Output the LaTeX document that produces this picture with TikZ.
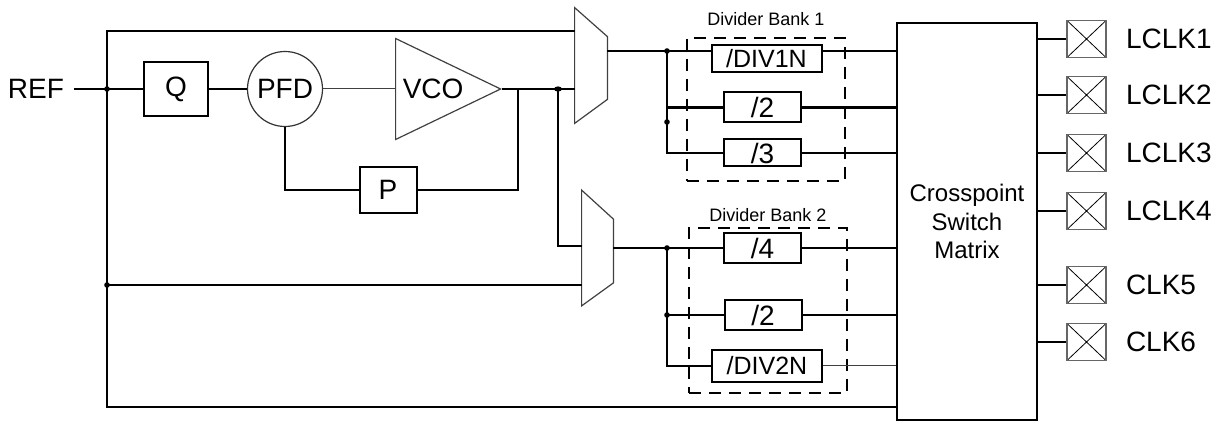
\documentclass[tikz,border=0pt]{standalone}
\usepackage{fontspec}
\setmainfont{Liberation Sans}
\usetikzlibrary{shapes.geometric,positioning}
\tikzstyle{sig} = [inner ysep=0pt, inner xsep=5pt, font=\fontsize{14}{16}\selectfont]
\tikzstyle{block} = [rectangle, draw, line width=1pt, inner sep=0pt, font=\fontsize{14}{16}\selectfont]
\tikzstyle{detector} = [circle, draw=black!80, line width=0.6pt, minimum size=37.5pt, inner sep=0pt, font=\fontsize{14}{16}\selectfont]
\tikzstyle{amp} = [isosceles triangle, isosceles triangle stretches, shape border rotate=0, draw=black!75, line width=0.6pt, minimum width=50.5pt, minimum height=52.5pt, inner sep=0pt, font=\fontsize{14}{16}\selectfont]
\tikzstyle{mux} = [rectangle, inner sep=0pt, minimum width=16pt, minimum height=57.5pt]
\tikzstyle{muxedge} = [draw=black!75, line width=0.6pt, line join=miter]
\tikzstyle{divider} = [rectangle, draw, line width=1pt, inner sep=0pt, minimum width=38.5pt, minimum height=15pt, font=\fontsize{14}{16}\selectfont]
\tikzstyle{divwide} = [divider, minimum width=55pt, font=\fontsize{12.5}{15}\selectfont]
\tikzstyle{bank} = [rectangle, draw, line width=1pt, dash pattern=on 6pt off 4pt, inner sep=0pt, minimum width=79pt]
\tikzstyle{banklabel} = [inner sep=0pt, font=\fontsize{9}{11}\selectfont]
\tikzstyle{matrixbox} = [rectangle, draw, line width=1.1pt, align=center, minimum width=70pt, minimum height=198.5pt, font=\fontsize{12}{14.3}\selectfont]
\tikzstyle{pad} = [rectangle, draw=black!60, line width=0.6pt, minimum width=19.5pt, minimum height=18.5pt, inner sep=0pt, path picture={\draw[black, line width=0.4pt] (path picture bounding box.north west) -- (path picture bounding box.south east) (path picture bounding box.south west) -- (path picture bounding box.north east);}]
\tikzstyle{pinlabel} = [inner sep=0pt, font=\fontsize{14}{16}\selectfont]
\tikzstyle{dot} = [circle, fill, inner sep=0pt, minimum size=2.8pt]
\tikzstyle{line} = [draw, line width=1.1pt]
\tikzstyle{thinline} = [draw, line width=0.5pt, black!75]

\begin{document}
\begin{tikzpicture}[node distance = 9.5pt, x=0.5pt, y=-0.5pt]
					\useasboundingbox (0,0) rectangle (1217,422);
					\node [sig] (ref) at (36,89) {REF};
					\node [block, minimum width=32pt, minimum height=27pt] (q) at (176,89) {Q};
					\node [detector] (pfd) at (285,89) {PFD};
					\node [amp, anchor=lower side] (vco) at (395,89) {VCO};
					\node [block, minimum width=28.5pt, minimum height=23pt] (p) at (388,190) {P};
					\node [mux] (mux1) at (591,65.5) {};
					\node [mux, minimum width=15.5pt] (mux2) at (597.5,248) {};
					\node [bank, minimum height=71.5pt] (bank1) at (766,109.5) {};
					\node [banklabel, above=5.5pt of bank1] (bank1lbl) {Divider Bank 1};
					\node [divwide, minimum height=13.5pt] (div1n) at (766.5,58.5) {/DIV1N};
					\node [divider] (d2) at (762.5,107.5) {/2};
					\node [divider, minimum height=13.5pt] (d3) at (762.5,153) {/3};
					\node [bank, minimum height=82.5pt] (bank2) at (768,310.5) {};
					\node [banklabel, above=2.5pt of bank2] (bank2lbl) {Divider Bank 2};
					\node [divider] (d4) at (762.5,248) {/4};
					\node [divider] (d5) at (763,315) {/2};
					\node [divwide, minimum height=16pt] (div2n) at (767,366) {/DIV2N};
					\node [matrixbox] (xpt) at (967,221.5) {Crosspoint\\Switch\\Matrix};
					\node [pad] (pad1) at (1086.5,39) {};
					\node [pad] (pad2) at (1086.5,95) {};
					\node [pad] (pad3) at (1086.5,153) {};
					\node [pad] (pad4) at (1086.5,211) {};
					\node [pad] (pad5) at (1086.5,285) {};
					\node [pad] (pad6) at (1086.5,342) {};
					\node [pinlabel, right=of pad1] (lclk1) {LCLK1};
					\node [pinlabel, right=of pad2] (lclk2) {LCLK2};
					\node [pinlabel, right=of pad3] (lclk3) {LCLK3};
					\node [pinlabel, right=of pad4] (lclk4) {LCLK4};
					\node [pinlabel, right=of pad5] (clk5) {CLK5};
					\node [pinlabel, right=of pad6] (clk6) {CLK6};
					\draw [muxedge] (mux1.north west) -- ([yshift=-14.5pt]mux1.north east) -- ([yshift=12pt]mux1.south east) -- (mux1.south west) -- cycle;
					\draw [muxedge] (mux2.north west) -- ([yshift=-14.5pt]mux2.north east) -- ([yshift=11.5pt]mux2.south east) -- (mux2.south west) -- cycle;
					\coordinate (topl) at (107,31);
					\coordinate (botl) at (107,407);
					\coordinate (vj) at (518,89);
					\coordinate (m2a) at (560,246);
					\coordinate (m1o) at (607,51);
					\node [dot] (refj) at (107,89) {};
					\node [dot] (m2j) at (107,285) {};
					\node [dot, ellipse, minimum width=4pt, minimum height=2.6pt] (dj) at (558,89) {};
					\node [dot] (b1j) at (667,51) {};
					\node [dot] (b1k) at (667,122) {};
					\node [dot] (b2j) at (667,248) {};
					\node [dot] (b2k) at (667,315) {};
					\path [line] (ref) -- (q);
					\path [line] (q) -- (pfd);
					\path [thinline] (pfd) -- (vco.lower side);
					\path [line] (vco.apex) -- (vco.apex -| mux1.west);
					\path [line] (pfd.south) |- (p.west);
					\path [line] (p.east) -| (vj);
					\path [line] (topl -| mux1.west) -- (topl) -- (botl) -- (botl -| xpt.west);
					\path [line] (dj.center) |- (m2a) -- (m2a -| mux2.west);
					\path [line] (m2j.center) -- (m2j -| mux2.west);
					\path [line] (m1o) -- (m1o -| div1n.west);
					\path [line] (b1j.center) |- (d3.west);
					\path [line] (b1j |- d2) -- (d2.west);
					\path [line] (m1o -| div1n.east) -- (m1o -| xpt.west);
					\path [line] (d2.east) -- (d2.east -| xpt.west);
					\path [line] (d3.east) -- (d3.east -| xpt.west);
					\path [line] (mux2.east) -- (d4.west);
					\path [line] (b2j.center) |- (div2n.west);
					\path [line] (b2k.center) -- (d5.west);
					\path [line] (d4.east) -- (d4.east -| xpt.west);
					\path [line] (d5.east) -- (d5.east -| xpt.west);
					\path [thinline] (div2n.east) -- (div2n.east -| xpt.west);
					\path [line] (xpt.east |- pad1) -- (pad1);
					\path [line] (xpt.east |- pad2) -- (pad2);
					\path [line] (xpt.east |- pad3) -- (pad3);
					\path [line] (xpt.east |- pad4) -- (pad4);
					\path [line] (xpt.east |- pad5) -- (pad5);
					\path [line] (xpt.east |- pad6) -- (pad6);
				\end{tikzpicture}
\end{document}
